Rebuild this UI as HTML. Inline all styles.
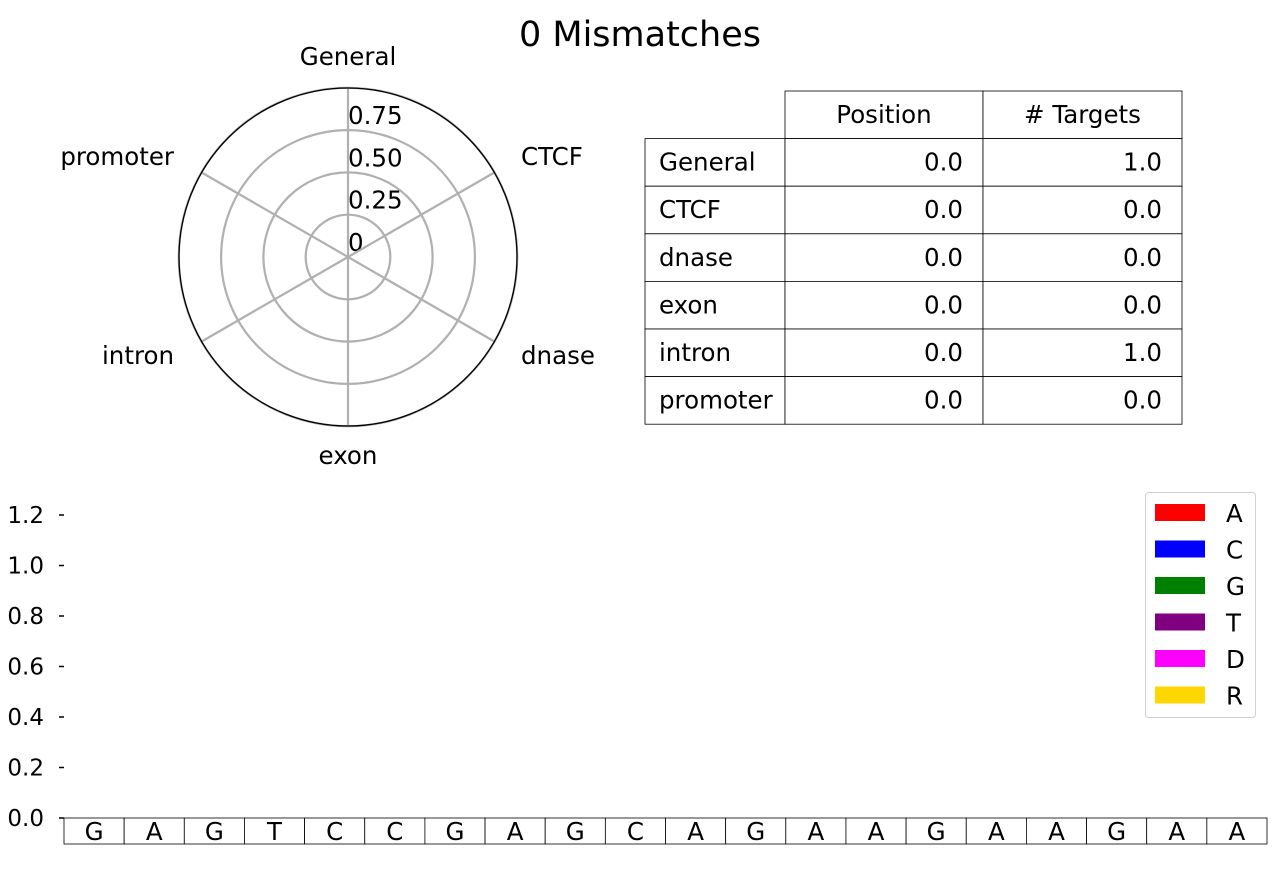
<!DOCTYPE html>
<html><head><meta charset="utf-8"><style>
body{margin:0;background:#fff;width:1280px;height:880px;overflow:hidden;font-family:"DejaVu Sans","Liberation Sans",sans-serif}
svg{display:block}
</style></head><body>
<svg width="1280" height="880" font-family="DejaVu Sans, Liberation Sans, sans-serif">
<text x="640" y="46" font-size="35" text-anchor="middle">0 Mismatches</text>
<g id="radar"></g>
<g id="tbl"></g>
<g id="bar"></g>
<g id="legend"></g>
</svg>
<script>
const categories=["General","CTCF","dnase","exon","intron","promoter"];
const radarValues=[0,0,0,0,0,0];
const radarTicks=["0","0.25","0.50","0.75"];
const positions=[0.0,0.0,0.0,0.0,0.0,0.0];
const targets=[1.0,0.0,0.0,0.0,1.0,0.0];
const sequence=["G","A","G","T","C","C","G","A","G","C","A","G","A","A","G","A","A","G","A","A"];
const barValues=[0,0,0,0,0,0,0,0,0,0,0,0,0,0,0,0,0,0,0,0];
const yTicks=["0.0","0.2","0.4","0.6","0.8","1.0","1.2"];
const legendLabels=["A","C","G","T","D","R"];
const legendColors=["red","blue","green","purple","magenta","gold"];
(function(){
const NS="http://www.w3.org/2000/svg";
const FS=24.5;
function mk(parent,tag,attrs,text){const e=document.createElementNS(NS,tag);for(const k in attrs)e.setAttribute(k,attrs[k]);if(text!==undefined)e.textContent=text;parent.appendChild(e);return e;}
// radar
const RG=document.getElementById('radar');const cx=348,cy=257,rOut=169;
radarTicks.forEach((t,i)=>{
const c=mk(RG,'circle',{cx:cx,cy:cy,r:42.3*(i+1),fill:'none',stroke:'#b0b0b0','stroke-width':2.2});


const tx=mk(RG,'text',{x:cx,y:cy-42.3*i-6,'font-size':FS},t);

});
const labPos=[[348,65,'middle'],[521,165,'start'],[521,364,'start'],[348,464,'middle'],[174,364,'end'],[174,165,'end']];
categories.forEach((c,i)=>{const a=Math.PI/2-i*Math.PI/3;
const l=mk(RG,'line',{x1:cx,y1:cy,x2:cx+rOut*Math.cos(a),y2:cy-rOut*Math.sin(a),stroke:'#b0b0b0','stroke-width':2.2});


const t=mk(RG,'text',{x:labPos[i][0],y:labPos[i][1],'font-size':FS,'text-anchor':labPos[i][2]},c);

});
const oc=mk(RG,'circle',{cx:cx,cy:cy,r:rOut,fill:'none',stroke:'#000','stroke-width':1.3});


// table
const TG=document.getElementById('tbl');const cols=[645,785,983,1182];const rowH=47.6,tblTop=91;
function cell(xa,xb,y,txt,anchor){const r=mk(TG,'rect',{x:xa,y:y,width:xb-xa,height:rowH,fill:'#fff',stroke:'#000','stroke-width':0.8});


const tx=anchor==='start'?xa+14:anchor==='end'?xb-20:(xa+xb)/2;
const t=mk(TG,'text',{x:tx,y:y+32,'font-size':FS,'text-anchor':anchor},txt);

}
cell(cols[1],cols[2],tblTop,'Position','middle');cell(cols[2],cols[3],tblTop,'# Targets','middle');
categories.forEach((c,i)=>{const y=tblTop+rowH*(i+1);cell(cols[0],cols[1],y,c,'start');cell(cols[1],cols[2],y,positions[i].toFixed(1),'end');cell(cols[2],cols[3],y,targets[i].toFixed(1),'end');});
// bar chart
const BG=document.getElementById('bar');const bx0=64,bx1=1267,by0=818,yMax=1.2,yTop=515;
const ys=v=>by0-(v/yMax)*(by0-yTop);const cw=(bx1-bx0)/sequence.length;
yTicks.forEach(t=>{const v=parseFloat(t);const y=ys(v);
const l=mk(BG,'line',{x1:59,x2:64,y1:y,y2:y,stroke:'#000','stroke-width':1.5});


const tx=mk(BG,'text',{x:44,y:y+8,'font-size':23,'text-anchor':'end'},t);

});
sequence.forEach((s,i)=>{const x=bx0+i*cw;
if(barValues[i]>0){const b=mk(BG,'rect',{x:x,y:ys(barValues[i]),width:cw,height:by0-ys(barValues[i]),fill:'red'});

}
const r=mk(BG,'rect',{x:x,y:818,width:cw,height:26,fill:'#fff',stroke:'#000','stroke-width':0.8});


const t=mk(BG,'text',{x:x+cw/2,y:840,'font-size':FS,'text-anchor':'middle'},s);

});
// legend
const LG=document.getElementById('legend');
const lb=mk(LG,'rect',{x:1145.5,y:492.5,width:110,height:225,rx:3,fill:'#fff',stroke:'#d0d0d0'});


legendLabels.forEach((lab,i)=>{const y=504+i*36.5;
const s=mk(LG,'rect',{x:1155,y:y,width:50,height:17,fill:legendColors[i]});


const t=mk(LG,'text',{x:1226,y:y+18,'font-size':FS},lab);

});
})();
</script>
</body></html>
